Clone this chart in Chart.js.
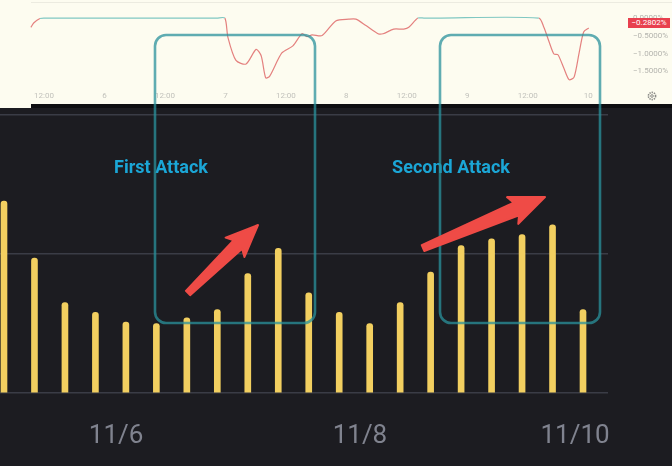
<!DOCTYPE html>
<html>
<head>
<meta charset="utf-8">
<script src="https://cdn.jsdelivr.net/npm/chart.js@4.4.1/dist/chart.umd.min.js"></script>
<style>
  html, body { margin:0; padding:0; }
  body { width:672px; height:466px; background:#1c1c21; position:relative; overflow:hidden; font-family:Roboto, "Liberation Sans", sans-serif; }
  #topPanel { position:absolute; left:0; top:0; width:672px; height:104px; background:#fdfcf0; }
  #topPanelExt { position:absolute; left:0; top:104px; width:31px; height:4px; background:#fdfcf0; }
  #darkStrip { position:absolute; left:31px; top:104px; width:641px; height:4px; background:#0e0e11; }
  #topBorder { position:absolute; left:31px; top:2px; width:641px; height:1px; background:#ecebe0; }
  #topCanvas { position:absolute; left:0; top:0; }
  #mainCanvas { position:absolute; left:0; top:108px; }
  #badge { position:absolute; left:628px; top:18px; width:42px; height:10px; background:#e8404e; color:#fff; font-size:8px; line-height:10px; text-align:center; }
  #overlay { position:absolute; left:0; top:0; }
  .note { position:absolute; color:#1ba6d6; font-weight:bold; font-size:18px; white-space:nowrap; transform:translate(-50%,-50%); }
</style>
</head>
<body>
<div id="topPanel"></div>
<div id="topPanelExt"></div>
<div id="darkStrip"></div>
<div id="topBorder"></div>
<canvas id="topCanvas" width="672" height="104"></canvas>
<canvas id="mainCanvas" width="672" height="358"></canvas>
<div id="badge">&#8722;0.2802%</div>
<div class="note" style="left:161px; top:166px;">First Attack</div>
<div class="note" style="left:451px; top:166px;">Second Attack</div>
<svg id="overlay" width="672" height="466"></svg>
<script>
// ---- Top panel: drawdown line (hours since 11/5 00:00, percent) ----
const topHours = [9.4, 10.0, 11.2, 12.2, 46.3, 47.9, 48.5, 50.1, 52.1, 54.1, 55.1, 56.0, 56.8, 59.2, 61.4, 63.2, 64.2, 65.2, 67.2, 69.9, 72.5, 73.9, 75.9, 78.3, 79.3, 81.4, 83.4, 84.4, 86.2, 87.4, 89.8, 110.2, 111.2, 112.2, 113.2, 114.0, 115.2, 116.2, 117.2, 118.2, 119.1, 120.1];
const topValues = [-0.26, -0.13, -0.01, 0, 0, 0, -0.54, -1.19, -1.29, -0.88, -1.06, -1.68, -1.63, -0.98, -0.78, -0.44, -0.52, -0.47, -0.49, -0.08, -0.03, -0.03, -0.21, -0.44, -0.44, -0.31, -0.31, -0.26, 0, 0, 0, 0, -0.26, -0.65, -1.01, -1.03, -1.42, -1.73, -1.66, -0.98, -0.39, -0.2802];
const topTickHours = [12, 24, 36, 48, 60, 72, 84, 96, 108, 120];
const topTickLabels = ['12:00', '6', '12:00', '7', '12:00', '8', '12:00', '9', '12:00', '10'];
const topYTicks = [0, -0.5, -1, -1.5];

// ---- Main panel: bars ----
const barValues = [138, 97, 65, 58, 51, 50, 54, 60, 86, 104, 72, 58, 50, 65, 87, 106, 111, 114, 121, 60];
const dateTickPositions = [3.68, 11.68, 18.74];
const dateTickLabels = ['11/6', '11/8', '11/10'];
const mainYTicks = [0, 100, 200];

const TEAL = '#80c8c2', RED = '#e4817f';

new Chart(document.getElementById('topCanvas'), {
  type: 'line',
  data: { datasets: [{
    data: topHours.map((h, i) => ({ x: h, y: topValues[i] })),
    borderColor: RED, borderWidth: 1.2, pointRadius: 0, tension: 0.25,
    segment: { borderColor: c => (c.p0.parsed.y > -0.015 && c.p1.parsed.y > -0.015) ? TEAL : RED }
  }]},
  options: {
    responsive: false, animation: false,
    layout: { padding: { top: 3, left: 0, right: 0, bottom: 0 } },
    plugins: { legend: { display: false }, tooltip: { enabled: false } },
    scales: {
      x: { type: 'linear', min: 3.27, max: 127.9, offset: false,
        afterBuildTicks: s => { s.ticks = topTickHours.map(v => ({ value: v })); },
        afterFit: s => { s.height = 16; },
        ticks: { callback: (v, i) => topTickLabels[i], font: { size: 8, family: 'Roboto' }, color: '#c2c2bc', padding: 3, maxRotation: 0, autoSkip: false },
        grid: { display: false, drawTicks: false }, border: { display: false } },
      y: { position: 'right', min: -1.965, max: 0.233,
        afterBuildTicks: s => { s.ticks = topYTicks.map(v => ({ value: v })); },
        afterFit: s => { s.width = 44; },
        ticks: { callback: v => (v < 0 ? '\u2212' : '') + Math.abs(v).toFixed(4) + '%', font: { size: 8, family: 'Roboto' }, color: '#b4b4ae', padding: 5, autoSkip: false },
        grid: { display: false, drawTicks: false }, border: { display: false } }
    }
  }
});

new Chart(document.getElementById('mainCanvas'), {
  type: 'bar',
  data: { datasets: [{
    data: barValues.map((v, i) => ({ x: i, y: v })),
    backgroundColor: '#f2cf60', barThickness: 6, borderRadius: 3, borderSkipped: 'bottom'
  }]},
  options: {
    responsive: false, animation: false,
    layout: { padding: { top: 7, left: 0, right: 64, bottom: 0 } },
    plugins: { legend: { display: false }, tooltip: { enabled: false } },
    scales: {
      x: { type: 'linear', min: -0.131, max: 19.82, offset: false,
        afterBuildTicks: s => { s.ticks = dateTickPositions.map(v => ({ value: v })); },
        afterFit: s => { s.height = 73; },
        ticks: { callback: (v, i) => dateTickLabels[i], font: { size: 26, family: 'Roboto' }, color: '#80838f', padding: 28, maxRotation: 0, autoSkip: false },
        grid: { display: false, drawTicks: false }, border: { display: false } },
      y: { min: 0, max: 200,
        afterBuildTicks: s => { s.ticks = mainYTicks.map(v => ({ value: v })); },
        afterFit: s => { s.width = 0; },
        ticks: { display: false },
        grid: { color: '#3a3c46', lineWidth: 1.5, drawTicks: false }, border: { display: false } }
    }
  }
});

// ---- Annotation overlay (boxes, arrows, gear icon) ----
const svg = document.getElementById('overlay');
const NS = 'http://www.w3.org/2000/svg';
function el(tag, attrs) { const e = document.createElementNS(NS, tag); for (const k in attrs) e.setAttribute(k, attrs[k]); svg.appendChild(e); return e; }
[[155, 35, 160, 288], [440, 35, 160, 288]].forEach(([x, y, w, h]) => {
  el('rect', { x, y, width: w, height: h, rx: 11, ry: 11, fill: 'none', stroke: 'rgba(42,146,156,0.75)', 'stroke-width': 2.6 });
});
function arrow(tx, ty, px, py, headLen, headHalf, tailHalf, neckHalf) {
  const dx = px - tx, dy = py - ty, L = Math.hypot(dx, dy);
  const ux = dx / L, uy = dy / L, nx = -uy, ny = ux;
  const Nx = px - ux * headLen, Ny = py - uy * headLen;
  const back = 4;
  const pts = [
    [tx - nx * tailHalf, ty - ny * tailHalf],
    [Nx - nx * neckHalf, Ny - ny * neckHalf],
    [Nx - nx * headHalf - ux * back, Ny - ny * headHalf - uy * back],
    [px, py],
    [Nx + nx * headHalf - ux * back, Ny + ny * headHalf - uy * back],
    [Nx + nx * neckHalf, Ny + ny * neckHalf],
    [tx + nx * tailHalf, ty + ny * tailHalf]
  ];
  el('polygon', { points: pts.map(p => p.join(',')).join(' '), fill: '#ef4b46', stroke: '#ef4b46', 'stroke-width': 2, 'stroke-linejoin': 'round' });
}
arrow(188, 293, 258, 225, 28, 13.5, 3, 6);
arrow(423, 248, 545, 197, 31, 14.5, 3.2, 6.8);
el('circle', { cx: 652, cy: 96, r: 3.6, fill: 'none', stroke: '#8a8a86', 'stroke-width': 1.6, 'stroke-dasharray': '1.4 0.9' });
el('circle', { cx: 652, cy: 96, r: 1.3, fill: 'none', stroke: '#8a8a86', 'stroke-width': 1 });
</script>
</body>
</html>
